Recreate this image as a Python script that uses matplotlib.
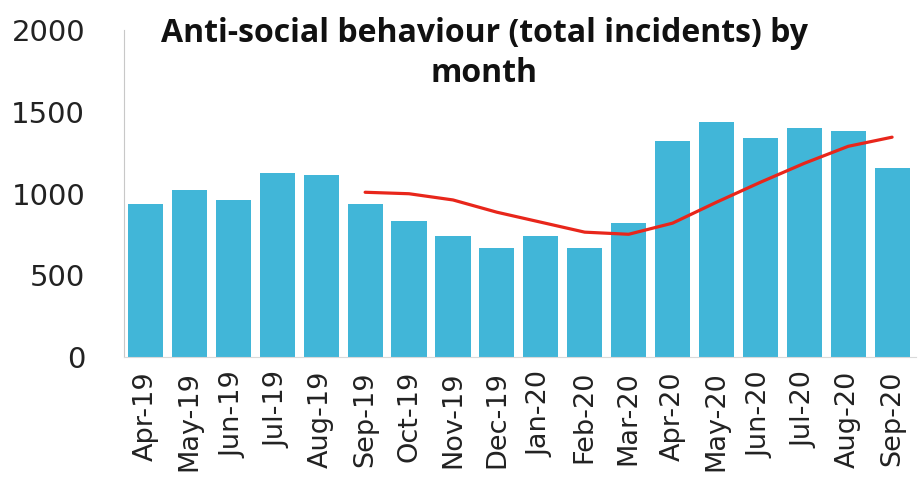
import matplotlib.pyplot as plt
import numpy as np

months = ['Apr-19', 'May-19', 'Jun-19', 'Jul-19', 'Aug-19', 'Sep-19', 'Oct-19', 'Nov-19', 'Dec-19',
          'Jan-20', 'Feb-20', 'Mar-20', 'Apr-20', 'May-20', 'Jun-20', 'Jul-20', 'Aug-20', 'Sep-20']
incidents = [936, 1021, 960, 1125, 1113, 936, 832, 744, 667, 740, 667, 820, 1321, 1437, 1339, 1400, 1382, 1156]
# rolling average line, starts at Sep-19
avg_months = months[5:]
avg_values = [1009, 1000, 962, 887, 826, 765, 752, 820, 948, 1070, 1186, 1290, 1346]

fig = plt.figure(figsize=(9.19, 4.88), dpi=100)
ax = fig.add_axes([0.135, 0.268, 0.862, 0.67])

x = np.arange(len(months))
ax.bar(x, incidents, width=0.8, color='#41b6d8')
xa = np.array([months.index(m) for m in avg_months])
ax.plot(xa, avg_values, color='#e8261b', lw=2.3, solid_joinstyle='round', solid_capstyle='round')

ax.set_xlim(-0.49, 17.55)
ax.set_ylim(0, 2000)
ax.set_yticks([0, 500, 1000, 1500, 2000])
ax.set_xticks(x)
ax.set_xticklabels(months, rotation=90, fontsize=19.5, color='#222222')
ax.tick_params(axis='y', length=0, pad=28, labelsize=21, labelcolor='#222222')
ax.tick_params(axis='x', length=0, pad=10)

for s in ['top', 'right']:
    ax.spines[s].set_visible(False)
ax.spines['left'].set_color('#c8c8c8')
ax.spines['bottom'].set_color('#d9d9d9')

fig.text(0.527, 0.966, 'Anti-social behaviour (total incidents) by\nmonth', ha='center', va='top',
         fontsize=23, fontweight='bold', family='Open Sans', linespacing=1.3, color='#111111')

plt.savefig('out.png', dpi=100)
